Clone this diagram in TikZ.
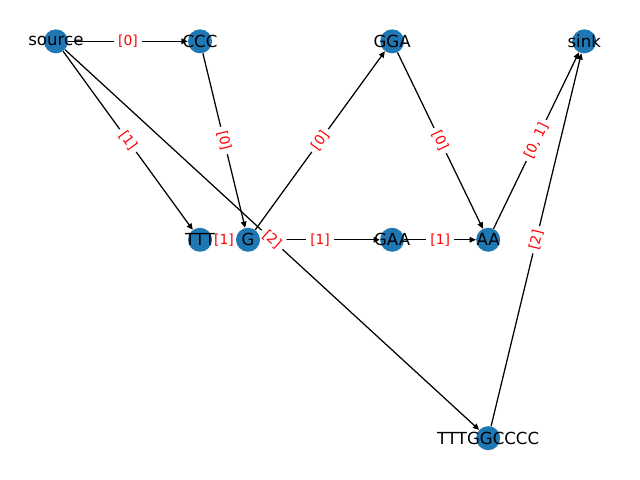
\documentclass[tikz,border=0pt]{standalone}
\usepackage{fontspec}
\setmainfont{DejaVu Sans}
\usetikzlibrary{positioning,arrows.meta,backgrounds}
\definecolor{nodeblue}{HTML}{1F77B4}
\tikzset{
  vtx/.style={circle,fill=nodeblue,minimum size=0.61cm,inner sep=0pt,
    label={[font=\fontsize{12}{14}\selectfont]center:#1}},
  wt/.style={midway,sloped,fill=white,text=red,inner sep=3pt,rounded corners=3pt,
    font=\fontsize{10}{12}\selectfont},
  arc/.style={-{Triangle[length=4.5pt,width=4pt]},line width=0.9pt}
}
\begin{document}
\begin{tikzpicture}[on grid]
\node[vtx=source](source){};
\node[vtx=CCC, right=3.66cm of source](ccc){};
\node[vtx=GGA, right=4.88cm of ccc](gga){};
\node[vtx=sink, right=4.88cm of gga](sink){};
\node[vtx=TTT, below=5.04cm of ccc](ttt){};
\node[vtx=G, right=1.22cm of ttt](g){};
\node[vtx=GAA, right=3.66cm of g](gaa){};
\node[vtx=AA, right=2.44cm of gaa](aa){};
\node[vtx=TTTGGCCCC, below=5.04cm of aa](tgc){};
\useasboundingbox ([shift={(-1.42cm,1.05cm)}]source.center) rectangle ++(16.256cm,-12.192cm);
\begin{scope}[on background layer]
% connectors
\draw[arc] (source) -- (ccc);
\draw[arc] (source) -- (ttt);
\draw[arc] (source) -- (tgc);
\draw[arc] (ccc) -- (g);
\draw[arc] (ttt) -- (g);
\draw[arc] (g) -- (gga);
\draw[arc] (g) -- (gaa);
\draw[arc] (gaa) -- (aa);
\draw[arc] (gga) -- (aa);
\draw[arc] (aa) -- (sink);
\draw[arc] (tgc) -- (sink);
% weights, above the lines but under the nodes
\path (source) -- (ccc) node[wt]{[0]};
\path (source) -- (ttt) node[wt]{[1]};
\path (source) -- (tgc) node[wt]{[2]};
\path (ccc) -- (g) node[wt]{[0]};
\path (ttt) -- (g) node[wt]{[1]};
\path (g) -- (gga) node[wt]{[0]};
\path (g) -- (gaa) node[wt]{[1]};
\path (gaa) -- (aa) node[wt]{[1]};
\path (gga) -- (aa) node[wt]{[0]};
\path (aa) -- (sink) node[wt]{[0, 1]};
\path (tgc) -- (sink) node[wt]{[2]};
\end{scope}
\end{tikzpicture}
\end{document}
